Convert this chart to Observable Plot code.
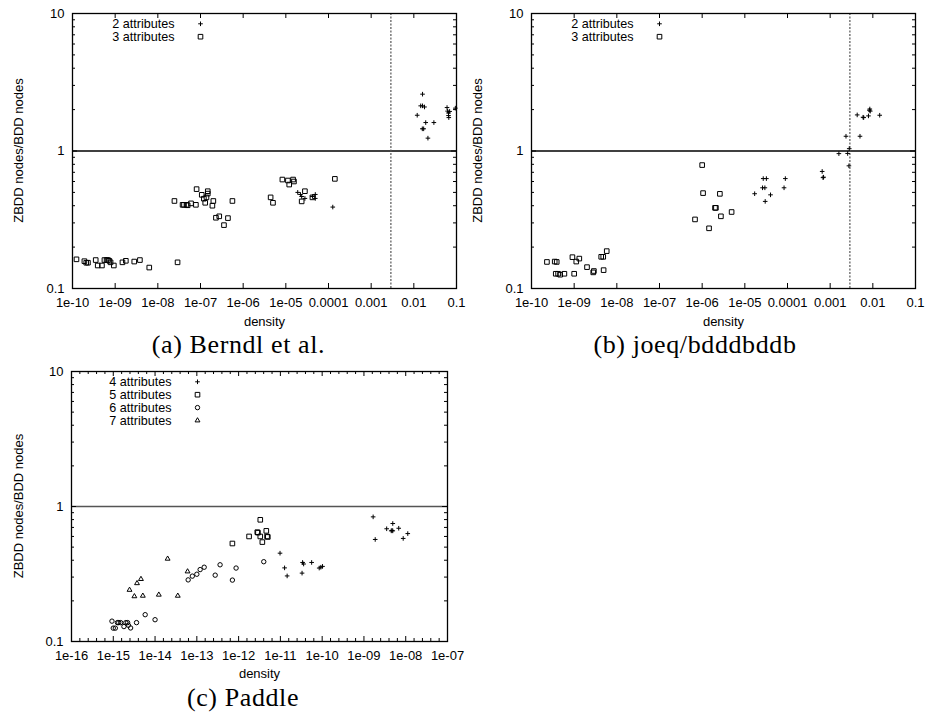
<!DOCTYPE html>
<html><head><meta charset="utf-8">
<script src="https://cdn.jsdelivr.net/npm/d3@7"></script>
<script src="https://cdn.jsdelivr.net/npm/@observablehq/plot@0.6"></script>
<style>
body{margin:0;background:#fff;}
#root{position:relative;width:926px;height:717px;overflow:hidden;background:#fff;}
.panel{position:absolute;}
.panel svg{overflow:visible;}
#caps{position:absolute;left:0;top:0;}
</style></head>
<body><div id="root"></div>
<script>
// ---------- shared axis values ----------
const yTicks = [0.1, 1, 10];
const yTickLabels = ["0.1", "1", "10"];
const yMinorTicks = [0.2,0.3,0.4,0.5,0.6,0.7,0.8,0.9,2,3,4,5,6,7,8,9];
const xTitle = "density";
const yTitle = "ZBDD nodes/BDD nodes";

const xTicksAB = [1e-10,1e-9,1e-8,1e-7,1e-6,1e-5,1e-4,1e-3,1e-2,1e-1];
const xTickLabelsAB = ["1e-10","1e-09","1e-08","1e-07","1e-06","1e-05","0.0001","0.001","0.01","0.1"];
const xTicksC = [1e-16,1e-15,1e-14,1e-13,1e-12,1e-11,1e-10,1e-9,1e-8,1e-7];
const xTickLabelsC = ["1e-16","1e-15","1e-14","1e-13","1e-12","1e-11","1e-10","1e-09","1e-08","1e-07"];

const captions = ["(a) Berndl et al.", "(b) joeq/bdddbddb", "(c) Paddle"];
const thresholdDensity = 0.0029;

// ---------- (a) Berndl et al. ----------
const berndl2 = [
  [1.9e-5,0.50],[2.2e-5,0.483],[2.35e-5,0.467],[2.8e-5,0.452],[4.2e-5,0.467],[4.9e-5,0.483],[4.9e-5,0.452],[1.26e-4,0.391],
  [0.016,2.59],[0.0145,2.13],[0.016,2.13],[0.0178,2.09],[0.012,1.82],[0.019,1.61],[0.0295,1.61],[0.0158,1.45],[0.017,1.45],[0.0214,1.24],
  [0.060,2.07],[0.062,1.95],[0.065,1.89],[0.065,1.81],[0.069,1.94],[0.066,1.75],[0.094,2.05]
];
const berndl3 = [
  [1.24e-10,0.163],[1.9e-10,0.158],[2.1e-10,0.154],[2.3e-10,0.154],[3.5e-10,0.161],[3.9e-10,0.147],[4.9e-10,0.147],
  [5.6e-10,0.161],[6.3e-10,0.161],[6.8e-10,0.161],[7.3e-10,0.159],[7.8e-10,0.155],[9.3e-10,0.147],[1.48e-9,0.155],
  [1.78e-9,0.159],[2.8e-9,0.157],[3.8e-9,0.161],[6.3e-9,0.142],[2.9e-8,0.155],
  [2.45e-8,0.433],[3.8e-8,0.406],[4.1e-8,0.406],[4.7e-8,0.406],[5.0e-8,0.403],[6.0e-8,0.416],[7.8e-8,0.406],[8.1e-8,0.528],
  [1.07e-7,0.48],[1.2e-7,0.45],[1.29e-7,0.42],[1.38e-7,0.46],[1.48e-7,0.49],[1.48e-7,0.51],[1.9e-7,0.40],[2.0e-7,0.433],
  [2.3e-7,0.327],[2.75e-7,0.335],[3.55e-7,0.289],[4.4e-7,0.325],[5.6e-7,0.433],
  [4.4e-6,0.46],[5.0e-6,0.42],[8.3e-6,0.62],[1.12e-5,0.61],[1.2e-5,0.57],[1.48e-5,0.62],[1.55e-5,0.60],
  [2.35e-5,0.43],[2.8e-5,0.51],[4.2e-5,0.46],[1.41e-4,0.627]
];

// ---------- (b) joeq/bdddbddb ----------
const joeq2 = [
  [1.7e-5,0.489],[2.6e-5,0.54],[2.95e-5,0.54],[2.7e-5,0.63],[3.2e-5,0.63],[3.0e-5,0.43],[4.0e-5,0.48],[8.3e-5,0.54],[8.9e-5,0.63],
  [6.5e-4,0.71],[6.8e-4,0.64],[7.0e-4,0.645],[1.6e-3,0.957],[2.35e-3,1.28],[2.57e-3,0.96],[2.8e-3,1.04],[2.75e-3,0.78],
  [4.3e-3,1.83],[5.0e-3,1.28],[5.9e-3,1.76],[6.1e-3,1.75],[7.9e-3,1.8],[8.3e-3,1.98],[8.5e-3,2.02],[8.7e-3,1.95],[1.45e-2,1.82]
];
const joeq3 = [
  [2.3e-10,0.156],[3.5e-10,0.157],[3.9e-10,0.156],[3.7e-10,0.128],[4.2e-10,0.128],[4.7e-10,0.126],[5.9e-10,0.128],
  [9.1e-10,0.169],[1.0e-9,0.128],[1.12e-9,0.157],[1.32e-9,0.165],[2.0e-9,0.143],[2.8e-9,0.131],[2.9e-9,0.134],
  [4.3e-9,0.170],[4.8e-9,0.170],[4.9e-9,0.136],[5.8e-9,0.187],
  [6.8e-7,0.318],[1.0e-6,0.79],[1.05e-6,0.494],[1.45e-6,0.274],[2.0e-6,0.386],[2.1e-6,0.386],[2.6e-6,0.488],[2.75e-6,0.335],[4.9e-6,0.36]
];

// ---------- (c) Paddle ----------
const paddle4 = [
  [9.8e-12,0.451],[1.26e-11,0.351],[1.45e-11,0.306],[3.4e-11,0.385],[3.6e-11,0.375],[3.3e-11,0.321],[5.6e-11,0.385],
  [8.5e-11,0.35],[9.3e-11,0.355],[1.02e-10,0.36],
  [1.66e-9,0.838],[1.86e-9,0.57],[3.5e-9,0.684],[4.5e-9,0.66],[4.7e-9,0.665],[4.9e-9,0.66],[4.9e-9,0.748],[6.8e-9,0.69],[8.7e-9,0.58],[1.12e-8,0.63]
];
const paddle5 = [
  [7.1e-13,0.532],[1.78e-12,0.60],[2.8e-12,0.645],[2.9e-12,0.64],[3.3e-12,0.797],[3.3e-12,0.60],[3.7e-12,0.545],[4.6e-12,0.66],[4.8e-12,0.60],[5.0e-12,0.595]
];
const paddle6 = [
  [9.3e-16,0.1415],[1.0e-15,0.1256],[1.12e-15,0.1256],[1.26e-15,0.138],[1.35e-15,0.138],[1.5e-15,0.138],[1.8e-15,0.129],
  [2.0e-15,0.138],[2.2e-15,0.138],[2.3e-15,0.132],[2.6e-15,0.126],[3.6e-15,0.138],[5.8e-15,0.158],[1.0e-14,0.145],
  [6.2e-14,0.286],[7.8e-14,0.305],[1.0e-13,0.315],[1.2e-13,0.341],[1.5e-13,0.355],[2.75e-13,0.31],[3.6e-13,0.37],
  [7.1e-13,0.285],[8.7e-13,0.35],[4.0e-12,0.39]
];
const paddle7 = [
  [2.45e-15,0.241],[3.2e-15,0.216],[3.7e-15,0.27],[4.6e-15,0.29],[5.1e-15,0.218],[1.23e-14,0.222],[2.0e-14,0.41],[3.5e-14,0.218],[6.0e-14,0.33]
];

const symbolStyle = {
  plus: {symbol: "plus", r: 1.6},
  square: {symbol: "square", r: 2.6},
  circle: {symbol: "circle", r: 2.2},
  triangle: {symbol: "triangle", r: 1.8}
};

function makePanel(o) {
  const pw = o.width - o.ml - o.mr, ph = o.height - o.mt - o.mb;
  const xfmt = new Map(o.xTicks.map((v, i) => [v, o.xLabels[i]]));
  const yfmt = new Map(yTicks.map((v, i) => [v, yTickLabels[i]]));
  const marks = [
    Plot.ruleY([1], {y: d => d, stroke: o.hColor, strokeWidth: o.hWidth}),
    o.vline ? Plot.ruleX([o.vline], {x: d => d, stroke: "#555", strokeWidth: 1.2, strokeDasharray: "2,1.5"}) : null,
    Plot.ruleX(o.xTicks, {x: d => d, insetTop: ph - 5, stroke: "black"}),
    Plot.ruleX(o.xTicks, {x: d => d, insetBottom: ph - 5, stroke: "black"}),
    Plot.ruleY(yTicks, {y: d => d, insetRight: pw - 5, stroke: "black"}),
    Plot.ruleY(yTicks, {y: d => d, insetLeft: pw - 5, stroke: "black"}),
    Plot.ruleY(yMinorTicks, {y: d => d, insetRight: pw - 3, stroke: "black"}),
    Plot.ruleY(yMinorTicks, {y: d => d, insetLeft: pw - 3, stroke: "black"}),
    o.xMinor ? Plot.ruleX(o.xMinor, {x: d => d, insetTop: ph - 3, stroke: "black"}) : null,
    o.xMinor ? Plot.ruleX(o.xMinor, {x: d => d, insetBottom: ph - 3, stroke: "black"}) : null,
    Plot.axisX(o.xTicks, {tickSize: 0, tickPadding: 9, tickFormat: d => xfmt.get(d), label: null}),
    Plot.axisY(yTicks, {tickSize: 0, tickPadding: 8, tickFormat: d => yfmt.get(d), label: null}),
    Plot.text([xTitle], {text: d => d, frameAnchor: "bottom", dy: o.xTitleDy, textAnchor: "middle", lineAnchor: "middle"})
  ];
  o.series.forEach((s, i) => {
    const st = symbolStyle[s.shape];
    marks.push(Plot.dot(s.data, {x: d => d[0], y: d => d[1], symbol: st.symbol, r: st.r, stroke: "black", fill: "none", strokeWidth: 1}));
    marks.push(Plot.text([s.label], {text: d => d, frameAnchor: "top-left", dx: o.legTextDx, dy: o.legDy0 + i * o.legRow, textAnchor: "end", lineAnchor: "middle", fontSize: 12.6}));
    marks.push(Plot.dot([s.label], {frameAnchor: "top-left", dx: o.legSymDx, dy: o.legDy0 + i * o.legRow, symbol: st.symbol, r: st.r, stroke: "black", fill: "none", strokeWidth: 1}));
  });
  marks.push(Plot.frame({stroke: "black", strokeWidth: 1.3}));
  const chart = Plot.plot({
    width: o.width, height: o.height,
    marginLeft: o.ml, marginRight: o.mr, marginTop: o.mt, marginBottom: o.mb,
    x: {type: "log", domain: o.xDomain},
    y: {type: "log", domain: [0.1, 10]},
    style: {fontFamily: "'Liberation Sans', Arial, sans-serif", fontSize: "13px", color: "black", background: "transparent", overflow: "visible"},
    marks
  });
  const div = document.createElement("div");
  div.className = "panel";
  div.style.left = o.left + "px";
  div.style.top = o.top + "px";
  div.appendChild(chart);
  document.getElementById("root").appendChild(div);
}

const minorC = [];
xTicksC.slice(0, -1).forEach(v => { for (let j = 1; j < 5; j++) minorC.push(v * Math.pow(10, j / 5)); });

makePanel({
  left: 0, top: 0, width: 463, height: 330, ml: 72, mr: 7, mt: 13, mb: 42,
  xDomain: [1e-10, 0.1], xTicks: xTicksAB, xLabels: xTickLabelsAB,
  vline: thresholdDensity, hColor: "black", hWidth: 1.3,
  xTitleDy: 33,
  legTextDx: 102, legSymDx: 128, legDy0: 10.3, legRow: 12.9,
  series: [
    {label: "2 attributes", shape: "plus", data: berndl2},
    {label: "3 attributes", shape: "square", data: berndl3}
  ]
});
makePanel({
  left: 463, top: 0, width: 463, height: 330, ml: 68, mr: 11, mt: 13, mb: 42,
  xDomain: [1e-10, 0.1], xTicks: xTicksAB, xLabels: xTickLabelsAB,
  vline: thresholdDensity, hColor: "black", hWidth: 1.3,
  xTitleDy: 33,
  legTextDx: 102, legSymDx: 128, legDy0: 10.3, legRow: 12.9,
  series: [
    {label: "2 attributes", shape: "plus", data: joeq2},
    {label: "3 attributes", shape: "square", data: joeq3}
  ]
});
makePanel({
  left: 0, top: 355, width: 463, height: 330, ml: 71, mr: 16, mt: 16, mb: 44,
  xDomain: [1e-16, 1e-7], xTicks: xTicksC, xLabels: xTickLabelsC, xMinor: minorC,
  vline: null, hColor: "#555", hWidth: 1.6,
  xTitleDy: 32,
  legTextDx: 100, legSymDx: 126, legDy0: 10.3, legRow: 12.9,
  series: [
    {label: "4 attributes", shape: "plus", data: paddle4},
    {label: "5 attributes", shape: "square", data: paddle5},
    {label: "6 attributes", shape: "circle", data: paddle6},
    {label: "7 attributes", shape: "triangle", data: paddle7}
  ]
});

// overlay: y-axis titles and captions
const overlay = d3.select("#root").append("svg").attr("id", "caps").attr("width", 926).attr("height", 717);
const yTitlePos = [[18.3, 150.5], [477, 150.5], [18.3, 506]];
overlay.selectAll("text.yt").data(yTitlePos).join("text").attr("class", "yt")
  .attr("transform", d => `translate(${d[0]},${d[1]}) rotate(-90)`)
  .attr("text-anchor", "middle").attr("dominant-baseline", "central")
  .attr("font-family", "'Liberation Sans', Arial, sans-serif").attr("font-size", 13)
  .text(yTitle);
const capPos = [[238.5, 353], [695, 353], [243, 706]];
overlay.selectAll("text.cap").data(captions).join("text").attr("class", "cap")
  .attr("x", (d, i) => capPos[i][0]).attr("y", (d, i) => capPos[i][1])
  .attr("text-anchor", "middle")
  .attr("font-family", "'Liberation Serif', 'DejaVu Serif', serif")
  .attr("font-size", 26)
  .attr("letter-spacing", 0.6)
  .text(d => d);
</script>
</body></html>
